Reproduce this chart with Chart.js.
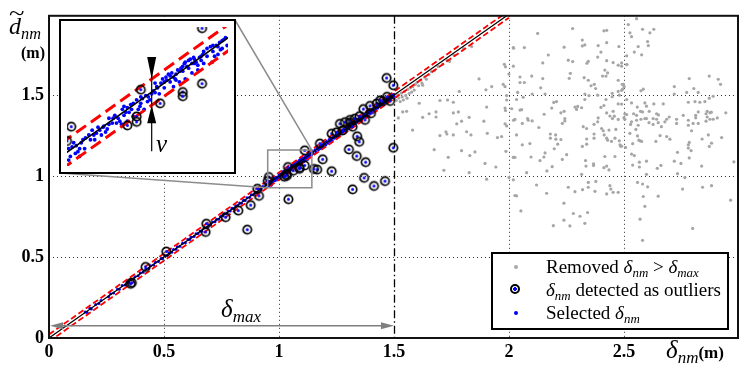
<!DOCTYPE html>
<html>
<head>
<meta charset="utf-8">
<script src="https://cdn.jsdelivr.net/npm/chart.js@4.4.1/dist/chart.umd.min.js"></script>
<style>
  body { margin: 0; background: #fff; }
  #wrap { position: relative; width: 747px; height: 378px; overflow: hidden; background: #fff; font-family: "Liberation Serif", serif; color: #000; }
  #mainChart { position: absolute; left: 0; top: 0; }
  #inset { position: absolute; left: 59px; top: 19px; width: 177px; height: 155px; box-sizing: border-box; border: 2px solid #000; background: #fff; }
  #inset canvas { display: block; }
  .lbl { position: absolute; white-space: nowrap; line-height: 1; }
  .lbl i { font-style: italic; }
  .lbl sub { font-size: 0.68em; vertical-align: -0.3em; }
  #ylab { left: 9px; top: 14px; font-size: 24px; }
  #ylab .tl { position: absolute; left: 0px; top: -12px; font-size: 22px; transform: scaleX(1.3); transform-origin: left; }
  #yunit { left: 21px; top: 45px; font-size: 16px; font-weight: bold; }
  #xlab { left: 666px; top: 337px; font-size: 25px; }
  #xlab .u { font-size: 17px; font-style: normal; font-weight: bold; }
  #dmax { left: 221px; top: 296px; font-size: 25px; }
  #nu { left: 156px; top: 131px; font-size: 25px; }
  #legend { position: absolute; left: 491px; top: 252px; width: 238px; height: 78px; box-sizing: border-box; border: 2px solid #000; background: #fff; }
  #legend .row { position: absolute; left: 53px; font-size: 19px; line-height: 1; white-space: nowrap; }
  #legend .row i { font-style: italic; }
  #legend .row sub { font-size: 0.68em; vertical-align: -0.3em; }
  .mk { position: absolute; border-radius: 50%; box-sizing: border-box; }
</style>
</head>
<body>
<div id="wrap">
  <canvas id="mainChart" width="747" height="378"></canvas>
  <div id="inset"><canvas id="insetChart" width="173" height="151"></canvas></div>

  <div class="lbl" id="ylab"><span class="tl">~</span><i>d</i><sub><i>nm</i></sub></div>
  <div class="lbl" id="yunit">(m)</div>
  <div class="lbl" id="xlab"><i>δ</i><sub><i>nm</i></sub><span class="u">(m)</span></div>
  <div class="lbl" id="dmax"><i>δ</i><sub><i>max</i></sub></div>
  <div class="lbl" id="nu"><i>ν</i></div>

  <div id="legend">
    <span class="mk" style="left:21px;top:11px;width:4px;height:4px;background:#a8a8a8;"></span>
    <div class="row" style="top:3px;">Removed <i>δ</i><sub><i>nm</i></sub> &gt; <i>δ</i><sub><i>max</i></sub></div>
    <span class="mk" style="left:17px;top:30px;width:10px;height:10px;border:2px solid #000;background:radial-gradient(circle, #0000ff 0 1.6px, #fff 1.7px);"></span>
    <div class="row" style="top:26px;"><i>δ</i><sub><i>nm</i></sub> detected as outliers</div>
    <span class="mk" style="left:21px;top:57px;width:4px;height:4px;background:#0000ff;"></span>
    <div class="row" style="top:49px;">Selected <i>δ</i><sub><i>nm</i></sub></div>
  </div>
</div>

<script>
// axes
const xMax = 2.996;
const yMax = 1.99;
const xTicks = [0, 0.5, 1, 1.5, 2, 2.5];
const yTicks = [0, 0.5, 1, 1.5];

const deltaMax = 1.5;     // threshold delta_max
const nu = 0.022;         // half width of the tolerance band
const fitRange = [0, 2];  // y = x reference line
const arrowY = 0.075;     // height of the delta_max arrow
const zoomX = [0.951, 1.143];
const zoomY = [0.928, 1.161];
const nuAt = 1.052;       // where the nu arrows sit in the inset

// removed points (delta_nm > delta_max)
const removed = [
  [1.505,1.49],[1.51,1.468],[1.516,1.502],[1.521,1.483],[1.527,1.46],[1.532,1.512],[1.536,1.489],[1.541,1.47],[1.546,1.523],[1.551,1.498],
  [1.557,1.481],[1.561,1.537],[1.566,1.51],[1.572,1.546],[1.577,1.519],[1.582,1.553],[1.588,1.531],[1.593,1.566],[1.601,1.579],[1.607,1.558],
  [1.616,1.592],[1.622,1.574],[1.633,1.611],[1.641,1.598],[1.652,1.627],[1.663,1.646],[1.676,1.652],[1.692,1.677],[1.712,1.691],[1.731,1.716],
  [1.742,1.708],[1.762,1.746],[1.803,1.788],[1.838,1.8],
  [2.02,1.79],[1.87,1.6],[1.925,1.553],[1.9,1.533],[1.784,1.523],[1.98,1.69],[1.985,1.675],[2.0,1.63],[1.975,1.567],[1.983,1.553],
  [1.99,1.497],[1.99,1.47],[1.625,1.561],[1.61,1.45],[1.7,1.467],[1.733,1.47],[1.758,1.456],[1.538,1.396],[1.555,1.4],[1.519,1.359],
  [1.625,1.363],[1.653,1.385],[1.683,1.396],[1.683,1.365],[1.758,1.39],[1.78,1.396],[1.794,1.339],[1.773,1.323],[1.827,1.363],[1.903,1.426],
  [1.891,1.339],[1.983,1.42],[1.985,1.405],[1.983,1.323],[1.99,1.31],[2.02,1.345],[1.581,1.284],[1.7,1.25],[1.726,1.274],[1.73,1.26],
  [1.758,1.254],[1.816,1.274],[1.835,1.254],[1.906,1.264],[1.95,1.238],[1.968,1.244],[1.675,1.163],[1.736,1.116],[1.794,1.157],[1.83,1.127],
  [1.852,1.149],[1.987,1.153],[2.02,1.116],[1.896,1.078],[1.943,1.056],[1.717,1.036],[1.827,1.021],[1.903,0.981],[2.0,0.991],[2.026,0.88],
  [2.125,1.881],[2.277,1.911],[2.413,1.897],[2.425,1.9],[2.319,1.84],[2.425,1.824],[2.019,1.794],[2.067,1.794],[2.24,1.796],[2.319,1.804],
  [2.33,1.81],[2.388,1.806],[2.478,1.8],[2.4,1.766],[2.171,1.748],[2.386,1.735],[2.258,1.716],[2.277,1.707],[2.345,1.709],[2.339,1.697],
  [2.425,1.713],[2.453,1.701],[2.475,1.685],[2.49,1.679],[2.513,1.689],[2.147,1.699],[2.019,1.679],[2.417,1.655],[2.429,1.638],[2.422,1.618],
  [2.407,1.618],[2.267,1.635],[2.262,1.604],[2.099,1.618],[2.048,1.612],[2.147,1.602],[2.327,1.608],[2.345,1.592],[2.475,1.592],[2.048,1.578],
  [2.067,1.578],[2.371,1.567],[2.357,1.558],[2.377,1.541],[2.493,1.567],[2.501,1.553],[2.138,1.545],[2.038,1.517],[2.101,1.507],[2.157,1.507],
  [2.33,1.507],[2.33,1.473],[2.348,1.497],[2.386,1.5],[2.449,1.511],[2.449,1.49],[2.475,1.523],[2.49,1.53],[2.48,1.5],[2.062,1.487],
  [2.033,1.473],[2.207,1.46],[2.195,1.455],[2.422,1.473],[2.475,1.446],[2.49,1.445],[2.012,1.416],[2.048,1.408],[2.055,1.41],[2.186,1.42],
  [2.287,1.426],[2.299,1.43],[2.294,1.412],[2.316,1.422],[2.24,1.4],[2.226,1.391],[2.4,1.424],[2.413,1.436],[2.453,1.4],[2.458,1.37],
  [2.425,1.39],[2.153,1.382],[2.504,1.385],[2.026,1.35],[2.081,1.355],[2.084,1.345],[2.101,1.341],[2.243,1.355],[2.243,1.341],[2.232,1.325],
  [2.058,1.325],[2.388,1.359],[2.386,1.335],[2.439,1.371],[2.45,1.355],[2.475,1.35],[2.5,1.361],[2.323,1.305],[2.338,1.294],[2.13,1.3],
  [2.37,1.32],[2.403,1.294],[2.41,1.28],[2.435,1.284],[2.465,1.288],[2.033,1.254],[2.18,1.26],[2.18,1.234],[2.203,1.254],[2.204,1.228],
  [2.226,1.226],[2.338,1.229],[2.338,1.197],[2.37,1.26],[2.37,1.234],[2.414,1.254],[2.425,1.234],[2.429,1.222],[2.446,1.214],[2.461,1.234],
  [2.48,1.218],[2.486,1.185],[2.507,1.177],[2.058,1.193],[2.091,1.201],[2.212,1.197],[2.197,1.169],[2.319,1.183],[2.157,1.143],[2.152,1.118],
  [2.251,1.132],[2.096,1.118],[2.019,1.116],[2.026,1.116],[2.135,1.096],[2.333,1.096],[2.335,1.062],[2.368,1.076],[2.368,1.066],[2.232,1.103],
  [2.417,1.121],[2.461,1.121],[2.188,1.058],[2.165,1.032],[2.413,1.052],[2.425,1.062],[2.435,1.038],[2.077,1.021],[2.316,1.011],[2.019,0.977],
  [2.345,0.961],[2.378,0.967],[2.12,0.945],[2.258,0.931],[2.345,0.931],[2.439,0.941],[2.443,0.92],[2.287,0.904],[2.32,0.916],[2.374,0.906],
  [2.425,0.89],[2.453,0.9],[2.475,0.9],[2.164,0.894],[2.033,0.878],[2.239,0.833],[2.052,0.785],[2.342,0.775],[2.28,0.769],[2.309,0.752],
  [2.239,0.728],[2.33,0.708],[2.193,0.694],[2.265,0.692],
  [2.555,1.972],[2.519,1.936],[2.526,1.885],[2.533,1.861],[2.581,1.907],[2.613,1.885],[2.63,1.907],[2.603,1.831],[2.606,1.806],[2.562,1.8],
  [2.545,1.766],[2.577,1.749],[2.512,1.743],[2.49,1.699],[2.512,1.689],[2.497,1.567],[2.494,1.537],[2.574,1.527],[2.584,1.537],[2.719,1.553],
  [2.719,1.507],[2.784,1.602],[2.804,1.541],[2.773,1.517],[2.823,1.517],[2.871,1.618],[2.91,1.598],[2.92,1.567],[2.888,1.493],[2.871,1.481],
  [2.852,1.46],[2.83,1.456],[2.809,1.46],[2.78,1.456],[2.512,1.473],[2.533,1.452],[2.558,1.426],[2.591,1.452],[2.598,1.432],[2.63,1.446],
  [2.671,1.446],[2.61,1.4],[2.581,1.396],[2.572,1.4],[2.542,1.385],[2.555,1.375],[2.512,1.38],[2.504,1.351],[2.574,1.351],[2.591,1.355],
  [2.598,1.355],[2.627,1.355],[2.642,1.351],[2.642,1.385],[2.65,1.378],[2.686,1.351],[2.697,1.365],[2.729,1.351],[2.758,1.375],[2.78,1.345],
  [2.812,1.375],[2.823,1.396],[2.812,1.36],[2.862,1.4],[2.857,1.385],[2.862,1.365],[2.874,1.351],[2.857,1.339],[2.874,1.391],[2.88,1.395],
  [2.888,1.351],[2.906,1.359],[2.943,1.391],[2.533,1.335],[2.555,1.345],[2.529,1.319],[2.562,1.314],[2.609,1.33],[2.649,1.33],[2.663,1.305],
  [2.678,1.335],[2.627,1.319],[2.729,1.325],[2.78,1.314],[2.801,1.325],[2.823,1.325],[2.552,1.288],[2.794,1.28],[2.526,1.264],[2.559,1.248],
  [2.57,1.218],[2.565,1.222],[2.657,1.25],[2.686,1.244],[2.7,1.228],[2.639,1.214],[2.577,1.214],[2.538,1.2],[2.483,1.193],[2.49,1.185],
  [2.784,1.208],[2.78,1.193],[2.84,1.229],[2.867,1.254],[2.881,1.203],[2.871,1.183],[2.925,1.238],[2.78,1.173],[2.792,1.157],[2.733,1.147],
  [2.533,1.136],[2.545,1.127],[2.784,1.112],[2.719,1.092],[2.748,1.078],[2.567,1.086],[2.567,1.056],[2.598,1.092],[2.538,1.068],[2.645,1.048],
  [2.661,1.066],[2.838,1.062],[2.978,1.088],[2.598,1.011],[2.733,1.015],[2.765,0.991],[2.559,0.961],[2.581,0.951],[2.603,0.934],[2.755,0.92],
  [2.842,0.931],[2.881,0.941],[2.649,0.876],[2.584,0.874],[2.591,0.813],[2.57,0.734],[2.799,0.677],[2.581,0.603],[2.964,0.851]
];

// delta_nm detected as outliers
const outliers = [
  [1.468,1.606],[1.497,1.561],[1.497,1.175],[1.304,1.165],[1.34,1.246],[1.349,1.212],[1.338,1.124],[1.377,1.086],[1.37,0.989],[1.413,0.939],
  [1.461,0.969],[1.32,0.918],[1.229,1.03],[1.19,1.104],[1.166,1.04],[1.152,1.044],[1.041,0.857],[1.112,1.159],[1.265,1.323],[1.287,1.333],
  [1.277,1.282],[1.309,1.347],[1.374,1.347],[1.367,1.414],[1.396,1.434],[1.425,1.448],[1.453,1.464],[1.483,1.464],[1.229,1.262],[1.178,1.201],
  [1.25,1.27],[1.31,1.33],[1.33,1.355],[1.35,1.37],[1.44,1.468],[1.47,1.49],[1.4,1.388],[1.32,1.305],[1.112,1.066],[1.039,1.056],
  [1.062,1.033],[1.089,1.052],[1.089,1.045],[1.034,1.011],[1.034,1.002],[1.023,0.996],[0.956,0.994],[0.951,0.97],[0.906,0.922],[0.913,0.878],
  [0.877,0.821],[0.823,0.787],[0.768,0.746],[0.862,0.669],[0.684,0.706],[0.681,0.655],[0.51,0.534],[0.42,0.439],[0.36,0.342],[0.355,0.335]
];

// selected delta_nm
const selected = [
  [0.157,0.161],[0.166,0.158],[0.178,0.183],[0.184,0.179],[0.203,0.207],[0.217,0.213],[0.226,0.231],[0.259,0.255],[0.268,0.274],[0.281,0.278],
  [0.298,0.303],[0.306,0.301],[0.318,0.324],[0.331,0.327],[0.339,0.344],[0.347,0.342],[0.356,0.361],[0.368,0.364],[0.374,0.379],[0.388,0.384],
  [0.397,0.402],[0.409,0.406],[0.421,0.426],[0.433,0.43],[0.442,0.447],[0.455,0.451],[0.463,0.468],[0.476,0.473],[0.488,0.492],[0.494,0.49],
  [0.503,0.508],[0.514,0.51],[0.522,0.527],[0.534,0.53],[0.541,0.546],[0.552,0.548],[0.558,0.563],[0.569,0.566],[0.581,0.585],[0.593,0.589],
  [0.604,0.608],[0.612,0.609],[0.618,0.623],[0.631,0.627],[0.639,0.644],[0.648,0.645],[0.657,0.661],[0.664,0.66],[0.676,0.681],[0.688,0.684],
  [0.694,0.699],[0.703,0.699],[0.711,0.716],[0.722,0.718],[0.729,0.734],[0.738,0.734],[0.746,0.751],[0.757,0.753],[0.763,0.768],[0.772,0.767],
  [0.779,0.784],[0.788,0.785],[0.796,0.801],[0.804,0.799],[0.812,0.817],[0.821,0.818],[0.829,0.834],[0.837,0.832],[0.846,0.851],[0.853,0.849],
  [0.861,0.866],[0.872,0.868],[0.879,0.884],[0.888,0.884],[0.896,0.901],[0.904,0.899],[0.913,0.918],[0.921,0.917],[0.93,0.935],[0.938,0.933],
  [0.944,0.949],
  [0.953,0.938],[0.955,0.944],[0.953,0.957],[0.957,0.96],[0.961,0.949],[0.962,0.962],[0.964,0.952],[0.966,0.957],[0.966,0.944],[0.959,0.967],
  [0.968,0.967],[0.97,0.972],[0.973,0.975],[0.979,0.972],[0.977,0.98],[0.983,0.98],[0.986,0.983],[0.99,0.988],[0.994,0.993],[0.995,0.995],
  [0.999,0.99],[1.001,0.998],[1.005,1.0],[1.006,1.008],[1.008,1.013],[1.012,1.008],[1.014,1.003],[1.017,1.023],[1.019,1.028],[1.021,1.018],
  [1.023,1.026],[1.025,1.018],[1.027,1.031],[1.03,1.033],[1.034,1.039],[1.036,1.023],[1.038,1.028],[1.039,1.033],[1.041,1.041],[1.043,1.023],
  [1.045,1.046],[1.048,1.044],[1.05,1.039],[1.052,1.049],[1.054,1.054],[1.056,1.051],[1.058,1.061],[1.059,1.059],[1.063,1.067],[1.065,1.074],
  [1.067,1.069],[1.069,1.077],[1.07,1.072],[1.072,1.082],[1.074,1.079],[1.076,1.084],[1.078,1.077],[1.08,1.074],[1.081,1.082],[1.083,1.089],
  [1.085,1.087],[1.087,1.092],[1.089,1.095],[1.091,1.1],[1.092,1.102],[1.094,1.095],[1.096,1.105],[1.098,1.107],[1.1,1.1],[1.102,1.11],
  [1.103,1.107],[1.105,1.102],[1.107,1.097],[1.109,1.11],[1.111,1.112],[1.113,1.115],[1.114,1.12],[1.118,1.125],[1.122,1.128],[1.125,1.12],
  [1.129,1.13],[1.131,1.115],[1.133,1.135],[1.136,1.138],[1.138,1.14],[1.14,1.143],[1.134,1.123],[1.127,1.112],[1.124,1.102],[1.03,1.011],
  [1.023,1.003],[1.016,0.998],[1.067,1.059],[1.078,1.061],[1.085,1.069],[1.092,1.074],[1.1,1.084],[1.107,1.089],[1.114,1.1],[0.992,0.98],
  [0.997,0.985],[0.984,0.972],[0.972,0.957],[0.981,0.988],[0.988,0.993],[1.01,1.0],[1.028,1.023],[1.047,1.036],[1.061,1.049],[1.074,1.069],
  [1.081,1.072],[1.089,1.087],[1.096,1.092],[1.103,1.1],[1.111,1.105],[1.118,1.112],[1.125,1.13],[1.131,1.128],[1.136,1.125],[1.142,1.13],
  [1.001,1.008],[1.019,1.013],[1.039,1.044],[1.056,1.067],
  [1.146,1.153],[1.149,1.139],[1.157,1.162],[1.161,1.149],[1.166,1.173],[1.172,1.163],[1.178,1.186],[1.181,1.17],[1.187,1.195],[1.192,1.183],
  [1.197,1.206],[1.203,1.192],[1.207,1.215],[1.212,1.203],[1.218,1.226],[1.222,1.213],[1.227,1.234],[1.231,1.22],[1.237,1.247],[1.241,1.234],
  [1.246,1.252],[1.251,1.242],[1.255,1.263],[1.259,1.252],[1.264,1.274],[1.268,1.26],[1.273,1.282],[1.277,1.27],[1.282,1.291],[1.286,1.278],
  [1.291,1.3],[1.296,1.287],[1.3,1.31],[1.304,1.296],[1.309,1.319],[1.313,1.304],[1.318,1.328],[1.322,1.315],[1.327,1.335],[1.331,1.321],
  [1.336,1.346],[1.34,1.333],[1.345,1.353],[1.349,1.342],[1.354,1.363],[1.358,1.348],[1.363,1.372],[1.367,1.36],[1.372,1.38],[1.376,1.367],
  [1.381,1.391],[1.385,1.376],[1.39,1.399],[1.394,1.386],[1.399,1.408],[1.403,1.395],[1.408,1.416],[1.412,1.403],[1.417,1.426],[1.421,1.412],
  [1.426,1.434],[1.43,1.42],[1.435,1.444],[1.439,1.431],[1.444,1.452],[1.448,1.439],[1.453,1.461],[1.457,1.448],[1.462,1.469],[1.466,1.456],
  [1.471,1.479],[1.475,1.465],[1.48,1.488],[1.484,1.474],[1.489,1.496],[1.493,1.485],[1.497,1.504],[1.499,1.492]
];

const pts = arr => arr.map(p => ({ x: p[0], y: p[1] }));
const fitLine = fitRange.map(v => ({ x: v, y: v }));
const bandHigh = fitRange.map(v => ({ x: v, y: v + nu }));
const bandLow = fitRange.map(v => ({ x: v, y: v - nu }));

// ring with blue centre, used as point style for outliers
function makeRing(r, lw) {
    const c = document.createElement('canvas');
    const s = Math.ceil(2 * r + lw + 2);
    c.width = c.height = s;
    const g = c.getContext('2d');
    g.beginPath();
    g.arc(s / 2, s / 2, r, 0, Math.PI * 2);
    g.lineWidth = lw;
    g.strokeStyle = '#000';
    g.stroke();
    g.beginPath();
    g.arc(s / 2, s / 2, 1.5, 0, Math.PI * 2);
    g.fillStyle = '#0000ff';
    g.fill();
    return c;
}
const ring = makeRing(4.2, 1.7);

function datasets(big) {
    return [
        { data: pts(outliers), pointStyle: ring, pointRadius: 5 },
        { data: fitLine, showLine: true, borderColor: '#000', borderWidth: big ? 1.6 : 1.2, pointRadius: 0 },
        { data: bandHigh, showLine: true, borderColor: '#ff0000', borderWidth: big ? 3 : 1.8, borderDash: big ? [12, 6] : [6, 3], pointRadius: 0 },
        { data: bandLow, showLine: true, borderColor: '#ff0000', borderWidth: big ? 3 : 1.8, borderDash: big ? [12, 6] : [6, 3], pointRadius: 0 },
        { data: pts(selected), pointRadius: big ? 1.9 : 1.5, backgroundColor: '#0000ff', borderWidth: 0 },
        { data: pts(removed), pointRadius: 1.6, backgroundColor: '#a6a6a6', borderWidth: 0 }
    ];
}

const tickFont = { family: 'Liberation Serif', size: 18, weight: 'bold' };

const decor = {
    id: 'decor',
    beforeDatasetsDraw(chart) {
        const { ctx, chartArea: a, scales: { x, y } } = chart;
        ctx.save();
        ctx.strokeStyle = '#333';
        ctx.lineWidth = 1;
        ctx.setLineDash([1, 3]);
        ctx.beginPath();
        xTicks.filter(v => v > 0 && v !== deltaMax).forEach(v => {
            const px = Math.round(x.getPixelForValue(v)) + 0.5;
            ctx.moveTo(px, a.top);
            ctx.lineTo(px, a.bottom);
        });
        yTicks.filter(v => v > 0).forEach(v => {
            const py = Math.round(y.getPixelForValue(v)) + 0.5;
            ctx.moveTo(a.left, py);
            ctx.lineTo(a.right, py);
        });
        ctx.stroke();

        // dash-dot line at delta_max
        const dx = Math.round(x.getPixelForValue(deltaMax)) + 0.5;
        ctx.strokeStyle = '#000';
        ctx.lineWidth = 1.3;
        ctx.setLineDash([8, 3, 1.5, 3]);
        ctx.beginPath();
        ctx.moveTo(dx, a.top);
        ctx.lineTo(dx, a.bottom);
        ctx.stroke();
        ctx.restore();
    },
    afterDraw(chart) {
        const { ctx, chartArea: a, scales: { x, y } } = chart;
        ctx.save();

        // delta_max double arrow
        const ay = y.getPixelForValue(arrowY);
        const x0 = x.getPixelForValue(0);
        const x1 = x.getPixelForValue(deltaMax);
        ctx.strokeStyle = '#7f7f7f';
        ctx.fillStyle = '#7f7f7f';
        ctx.lineWidth = 1.5;
        ctx.beginPath();
        ctx.moveTo(x0 + 10, ay);
        ctx.lineTo(x1 - 10, ay);
        ctx.stroke();
        ctx.beginPath();
        ctx.moveTo(x0 + 1, ay); ctx.lineTo(x0 + 14, ay - 3.5); ctx.lineTo(x0 + 14, ay + 3.5); ctx.closePath();
        ctx.moveTo(x1, ay); ctx.lineTo(x1 - 13, ay - 3.5); ctx.lineTo(x1 - 13, ay + 3.5); ctx.closePath();
        ctx.fill();

        // zoom box and connectors to the inset
        const bl = x.getPixelForValue(zoomX[0]), br = x.getPixelForValue(zoomX[1]);
        const bt = y.getPixelForValue(zoomY[1]), bb = y.getPixelForValue(zoomY[0]);
        const ins = document.getElementById('inset');
        const L = ins.offsetLeft, T = ins.offsetTop;
        const R = L + ins.offsetWidth, B = T + ins.offsetHeight;
        ctx.strokeStyle = '#8c8c8c';
        ctx.lineWidth = 1.5;
        ctx.strokeRect(bl, bt, br - bl, bb - bt);
        ctx.beginPath();
        ctx.moveTo(R - 1, T + 1); ctx.lineTo(br, bt);
        ctx.moveTo(L + 1, B - 1); ctx.lineTo(bl, bb);
        ctx.stroke();

        // frame
        ctx.strokeStyle = '#111';
        ctx.lineWidth = 2;
        ctx.strokeRect(a.left, a.top, a.right - a.left, a.bottom - a.top);
        ctx.restore();
    }
};

new Chart(document.getElementById('mainChart'), {
    type: 'scatter',
    data: { datasets: datasets(false) },
    options: {
        responsive: false,
        animation: false,
        events: [],
        layout: { padding: { top: 10, right: 9, left: 0, bottom: 0 } },
        plugins: { legend: { display: false }, tooltip: { enabled: false } },
        scales: {
            x: {
                type: 'linear', min: 0, max: xMax,
                afterBuildTicks: s => { s.ticks = xTicks.map(v => ({ value: v })); },
                afterFit: s => { s.height = 40; },
                grid: { display: false, drawTicks: false },
                border: { display: false },
                ticks: { font: tickFont, color: '#000', padding: 4, maxRotation: 0, autoSkip: false, callback: v => String(v) }
            },
            y: {
                type: 'linear', min: 0, max: yMax,
                afterBuildTicks: s => { s.ticks = yTicks.map(v => ({ value: v })); },
                afterFit: s => { s.width = 49; },
                grid: { display: false, drawTicks: false },
                border: { display: false },
                ticks: { font: tickFont, color: '#000', padding: 5, autoSkip: false, callback: v => String(v) }
            }
        }
    },
    plugins: [decor]
});

// nu arrows inside the inset
const nuMarks = {
    id: 'nuMarks',
    afterDatasetsDraw(chart) {
        const { ctx, scales: { x, y } } = chart;
        const px = x.getPixelForValue(nuAt);
        const top = y.getPixelForValue(nuAt + nu);
        const bot = y.getPixelForValue(nuAt - nu);
        ctx.save();
        ctx.fillStyle = '#000';
        ctx.strokeStyle = '#000';
        ctx.lineWidth = 1.2;
        ctx.beginPath();
        ctx.moveTo(px, top - 22);
        ctx.lineTo(px, bot + 46);
        ctx.stroke();
        ctx.beginPath();
        ctx.moveTo(px, top); ctx.lineTo(px - 4.5, top - 22); ctx.lineTo(px + 4.5, top - 22); ctx.closePath();
        ctx.moveTo(px, bot); ctx.lineTo(px - 4.5, bot + 18); ctx.lineTo(px + 4.5, bot + 18); ctx.closePath();
        ctx.fill();
        ctx.restore();
    }
};

new Chart(document.getElementById('insetChart'), {
    type: 'scatter',
    data: { datasets: datasets(true).slice(0, 5) },
    options: {
        responsive: false,
        animation: false,
        events: [],
        layout: { padding: 0 },
        plugins: { legend: { display: false }, tooltip: { enabled: false } },
        scales: {
            x: { type: 'linear', min: zoomX[0], max: zoomX[1], display: false },
            y: { type: 'linear', min: zoomY[0], max: zoomY[1], display: false }
        }
    },
    plugins: [nuMarks]
});
</script>
</body>
</html>
